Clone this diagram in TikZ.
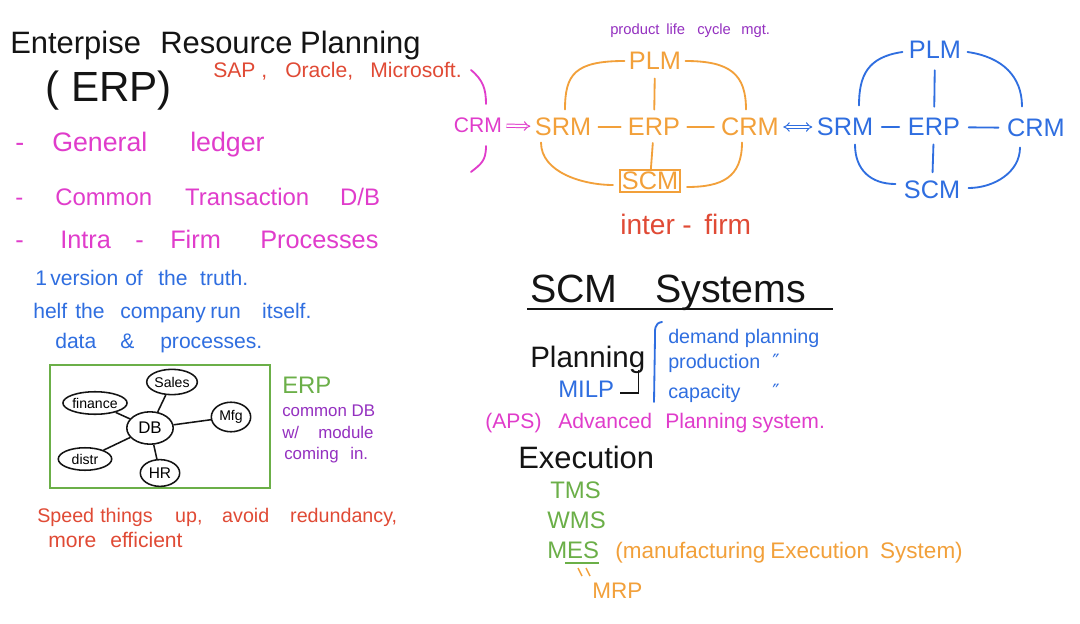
\documentclass[tikz,border=0pt]{standalone}
\usepackage{fontspec}
\setmainfont{Liberation Sans}
\newfontfamily\markfont{DejaVu Sans}
\usetikzlibrary{positioning, calc, arrows.meta, shapes.geometric}
\definecolor{InkBlack}{HTML}{141414}
\definecolor{NoteRed}{HTML}{E04A35}
\definecolor{NotePink}{HTML}{E03CCB}
\definecolor{NoteBlue}{HTML}{2F6EE0}
\definecolor{NoteGreen}{HTML}{6BAF48}
\definecolor{NotePurple}{HTML}{9430C0}
\definecolor{NoteOrange}{HTML}{F2A03A}
\newlength{\pxu}
\setlength{\pxu}{0.025cm}
\newcommand{\gapword}[2]{\makebox[#1\pxu][l]{#2}}
\tikzset{
    note/.style={anchor=base west, inner sep=0pt, font=\fontsize{#1}{#1}\selectfont},
    hub/.style={ellipse, draw=InkBlack, line width=1.1pt, inner sep=0pt, font=\fontsize{10}{10}\selectfont},
    sys/.style={inner sep=3pt, font=\fontsize{18}{18}\selectfont},
    link/.style={line width=1.3pt, line cap=round},
    dblarrow/.style={line width=0.7pt, double, double distance=1.6pt},
}

\begin{document}
\begin{tikzpicture}[x=0.025cm, y=-0.025cm]
\fill[white] (0,0) rectangle (1080,624);
\useasboundingbox (0,0) rectangle (1080,624);

% ERP notes, left column
\node[note=22, InkBlack] (title) at (10,54) {\gapword{150}{Enterpise}\gapword{140}{Resource}Planning};
\node[note=30, InkBlack] (erpabbr) at (45,102) {( ERP)};
\node[note=15, NoteRed] (vendors) at (213,78) {\gapword{72}{SAP ,}\gapword{85}{Oracle,}Microsoft.};
\node[note=19, NotePink] (ledger) at (15,152) {\gapword{37}{-}\gapword{138}{General}ledger};
\node[note=17, NotePink] (transdb) at (15,205) {\gapword{40}{-}\gapword{130}{Common}\gapword{155}{Transaction}D/B};
\node[note=18, NotePink] (intrafirm) at (15,248) {\gapword{45}{-}\gapword{75}{Intra}\gapword{35}{-}\gapword{90}{Firm}Processes};
\node[note=15, NoteBlue] (truth) at (35,285) {\gapword{15}{1}\gapword{75}{version}\gapword{33}{of}\gapword{42}{the}truth.};
\node[note=15, NoteBlue] (itself) at (33,318) {\gapword{42}{helf}\gapword{45}{the}\gapword{90}{company}\gapword{52}{run}itself.};
\node[note=15, NoteBlue] (dataproc) at (55,348) {\gapword{65}{data}\gapword{40}{\&}processes.};

% common DB with modules
\draw[NoteGreen, line width=1.3pt] (50,365) rectangle (270,488);
\node[hub, minimum width=36pt, minimum height=18pt] (sales) at (172,382) {Sales};
\node[hub, minimum width=44pt, minimum height=16pt] (finance) at (95,403) {finance};
\node[hub, minimum width=33pt, minimum height=23pt, font=\fontsize{12}{12}\selectfont] (db) at (150,428) {DB};
\node[hub, minimum width=28pt, minimum height=21pt] (mfg) at (231,417) {Mfg};
\node[hub, minimum width=38pt, minimum height=16pt] (distr) at (85,459) {distr};
\node[hub, minimum width=28pt, minimum height=19pt, font=\fontsize{11}{11}\selectfont] (hr) at (160,473) {HR};
\foreach \mod in {sales, finance, mfg, distr, hr}
    \draw[InkBlack, line width=1.1pt] (db) -- (\mod);
\node[note=17, NoteGreen] (erplabel) at (282,393) {ERP};
\node[note=12, NotePurple] (commondb) at (282,416) {common DB};
\node[note=12, NotePurple] (withmod) at (282,438) {\gapword{36}{w/}module};
\node[note=12, NotePurple] (comingin) at (284,459) {\gapword{66}{coming}in.};
\node[note=14, NoteRed] (speedup) at (37,522) {\gapword{63}{Speed}\gapword{75}{things}\gapword{47}{up,}\gapword{68}{avoid}redundancy,};
\node[note=15, NoteRed] (efficient) at (48,547) {\gapword{62}{more}efficient};

% orange ERP ring
\node[note=10.5, NotePurple] (plmnote) at (610,35) {\gapword{56}{product}\gapword{31}{life}\gapword{44}{cycle}mgt.};
\node[sys, NoteOrange] (oplm) at (655,61) {PLM};
\node[sys, NoteOrange] (osrm) at (563,127) {SRM};
\node[sys, NoteOrange] (oerp) at (654,127) {ERP};
\node[sys, NoteOrange] (ocrm) at (750,127) {CRM};
\node[sys, NoteOrange, draw, line width=1.1pt, inner sep=1.5pt] (oscm) at (650,181) {SCM};
\draw[link, NoteOrange, shorten <=3pt, shorten >=3pt] (oplm) -- (oerp);
\draw[link, NoteOrange, shorten <=2pt] (oerp) -- (oscm);
\draw[link, NoteOrange, shorten <=2pt, shorten >=2pt] (osrm) -- (oerp);
\draw[link, NoteOrange, shorten <=2pt, shorten >=2pt] (oerp) -- (ocrm);
\draw[link, NoteOrange] (oplm.west) .. controls +(-50,0) and +(0,-35) .. ($(osrm.north)+(2,-4)$);
\draw[link, NoteOrange] (oplm.east) .. controls +(45,0) and +(0,-35) .. ($(ocrm.north)+(-4,-4)$);
\draw[link, NoteOrange] ($(osrm.south)+(-22,2)$) .. controls +(0,30) and +(-30,0) .. ($(oscm.west)+(-6,4)$);
\draw[link, NoteOrange] ($(ocrm.south)+(-8,2)$) .. controls +(0,35) and +(35,0) .. ($(oscm.east)+(6,6)$);
\node[note=20, NoteRed] (interfirm) at (620,234) {\gapword{62}{inter}\gapword{22}{-}firm};

% CRM feeding in
\node[sys, NotePink, font=\fontsize{15}{15}\selectfont] (pcrm) at (478,125) {CRM};
\draw[dblarrow, NotePink, -{Implies}] (pcrm) -- (osrm);
\draw[link, NotePink] ($(pcrm)+(-7,-55)$) .. controls +(12,10) and +(0,-15) .. ($(pcrm)+(8,-21)$);
\draw[link, NotePink] ($(pcrm)+(8,21)$) .. controls +(0,15) and +(10,-8) .. ($(pcrm)+(-7,47)$);

% blue ERP ring
\node[sys, NoteBlue] (bplm) at (935,50) {PLM};
\node[sys, NoteBlue] (bsrm) at (845,127) {SRM};
\node[sys, NoteBlue] (berp) at (934,127) {ERP};
\node[sys, NoteBlue] (bcrm) at (1036,128) {CRM};
\node[sys, NoteBlue] (bscm) at (932,190) {SCM};
\draw[dblarrow, NoteBlue, {Implies}-{Implies}] (ocrm) -- (bsrm);
\draw[link, NoteBlue, shorten <=5pt, shorten >=5pt] (bplm) -- (berp);
\draw[link, NoteBlue, shorten <=3pt, shorten >=3pt] (berp) -- (bscm);
\draw[link, NoteBlue, shorten <=3pt, shorten >=3pt] (bsrm) -- (berp);
\draw[link, NoteBlue, shorten <=3pt, shorten >=3pt] (berp) -- (bcrm);
\draw[link, NoteBlue] ($(bplm.west)+(-2,2)$) .. controls +(-35,5) and +(0,-30) .. ($(bsrm.north)+(14,-8)$);
\draw[link, NoteBlue] ($(bplm.east)+(2,2)$) .. controls +(35,5) and +(0,-30) .. ($(bcrm.north)+(-14,-8)$);
\draw[link, NoteBlue] ($(bsrm.south)+(10,4)$) .. controls +(0,25) and +(-25,0) .. ($(bscm.west)+(-4,-6)$);
\draw[link, NoteBlue] ($(bcrm.south)+(-16,6)$) .. controls +(0,25) and +(25,0) .. ($(bscm.east)+(4,-2)$);

% SCM systems
\node[note=28, InkBlack] (scmtitle) at (530,302) {\gapword{125}{SCM}Systems};
\coordinate (ruleL) at (527,309);
\coordinate (ruleR) at (833,309);
\draw[InkBlack, line width=1.5pt] (ruleL) -- (ruleR);
\node[note=21, InkBlack] (planning) at (530,367) {Planning};
\node[note=17, NoteBlue] (milp) at (558,397) {MILP};
\draw[InkBlack, line width=1.1pt] ($(planning.base east)+(-7,3)$) |- ($(milp.east)+(6,4)$);
\draw[link, NoteBlue] (662,322) .. controls (654,323) and (655,330) .. (655,338) -- (654,402);
\node[note=14, NoteBlue] (demand) at (668,343) {demand planning};
\node[note=14, NoteBlue] (production) at (668,368) {\gapword{104}{production}{\markfont ″}};
\node[note=14, NoteBlue] (capacity) at (668,398) {\gapword{104}{capacity}{\markfont ″}};
\node[note=15, NotePink] (aps) at (485,428) {\gapword{73}{(APS)}\gapword{107}{Advanced}\gapword{87}{Planning}system.};
\node[note=22, InkBlack] (execution) at (518,468) {Execution};
\node[note=17, NoteGreen] (tms) at (550,498) {TMS};
\node[note=17, NoteGreen] (wms) at (547,528) {WMS};
\node[note=17, NoteGreen] (mes) at (547,558) {MES};
\draw[NoteGreen, line width=1.1pt] ($(mes.base west)+(18,5)$) -- ($(mes.base east)+(0,5)$);
\node[note=16, NoteOrange] (mesname) at (615,558) {\gapword{155}{(manufacturing}\gapword{110}{Execution}System)};
\node[note=16, NoteOrange] (mrp) at (592,598) {MRP};
\draw[NoteOrange, line width=1pt] (578,568) -- (582,576);
\draw[NoteOrange, line width=1pt] (586,568) -- (590,576);
\end{tikzpicture}
\end{document}
